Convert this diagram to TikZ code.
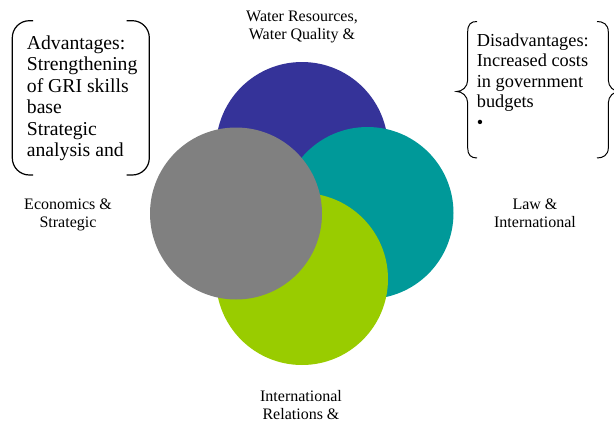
\documentclass[tikz,border=0pt]{standalone}
\usepackage{fontspec}
\setmainfont{Liberation Serif}
\definecolor{cblue}{RGB}{53,51,153}
\definecolor{cteal}{RGB}{0,153,153}
\definecolor{cgreen}{RGB}{153,204,0}
\definecolor{cgray}{RGB}{128,128,128}
\begin{document}
\begin{tikzpicture}[x=1pt,y=-1pt,
  disc/.style={circle,inner sep=0pt,minimum size=172pt,draw=none},
  lbl/.style={align=center,inner sep=0pt,font=\fontsize{16}{18.4}\selectfont},
  boxtext/.style={align=left,inner sep=0pt,anchor=base west},
  bracketline/.style={line width=1.2pt,rounded corners=17pt},
  braceline/.style={line width=1pt}]
\useasboundingbox (0,0) rectangle (614,423);
% circles
\node[disc,fill=cblue]  (water) at (302,148) {};
\node[disc,fill=cteal]  (law)   at (367.5,213) {};
\node[disc,fill=cgreen] (intl)  at (302,279) {};
\node[disc,fill=cgray]  (econ)  at (236,213.5) {};
% labels (anchor base = baseline of last line)
\node[lbl,anchor=base] (lwater) at (302,39.4) {Water Resources,\\Water Quality \&};
\node[lbl,anchor=base] (lecon) at (68,227.7) {Economics \&\\Strategic};
\node[lbl,anchor=base] (llaw) at (535,227.7) {Law \&\\International};
\node[lbl,anchor=base] (lintl) at (301,419.6) {International\\Relations \&};
% advantages bracket
\draw[bracketline] (33,20.7) -- (12.3,20.7) -- (12.3,175) -- (33,175);
\draw[bracketline] (126.7,20.7) -- (149.3,20.7) -- (149.3,175) -- (126.7,175);
\node[boxtext,font=\fontsize{19.7}{21.5}\selectfont] (adv) at (26.7,156.8)
  {Advantages:\\Strengthening\\of GRI skills\\base\\Strategic\\analysis and};
% disadvantages brace
\draw[braceline] (477,21.5) .. controls (471,21.5) and (467.7,24) .. (467.7,32)
  -- (467.7,80) .. controls (467.7,87) and (462,91.5) .. (456.7,91.5)
  .. controls (462,91.5) and (467.7,96) .. (467.7,103)
  -- (467.7,148) .. controls (467.7,155) and (471,158) .. (477,158);
\draw[braceline] (597,21.5) .. controls (603,21.5) and (608.3,24) .. (608.3,32)
  -- (608.3,80) .. controls (608.3,87) and (614,91.5) .. (619.3,91.5)
  .. controls (614,91.5) and (608.3,96) .. (608.3,103)
  -- (608.3,148) .. controls (608.3,155) and (603,158) .. (597,158);
\node[boxtext,font=\fontsize{18.3}{20.6}\selectfont] (dis) at (476.7,128.4)
  {Disadvantages:\\Increased costs\\in government\\budgets\\•};
\end{tikzpicture}
\end{document}
